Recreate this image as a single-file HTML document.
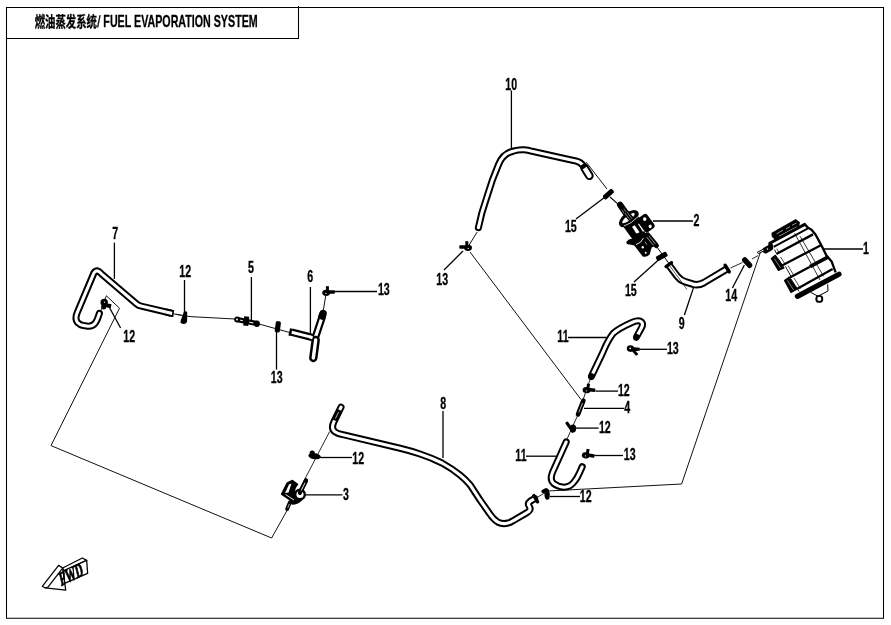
<!DOCTYPE html>
<html><head><meta charset="utf-8"><title>FUEL EVAPORATION SYSTEM</title>
<style>
html,body{margin:0;padding:0;background:#fff}
svg{display:block;will-change:transform;font-family:"Liberation Sans",sans-serif;font-weight:bold;font-size:16.0px;fill:#000}
text{stroke:#000;stroke-width:0.3px}
.ld{stroke:#000;fill:none}
</style></head><body>
<svg width="891" height="625" viewBox="0 0 891 625">
<rect width="891" height="625" fill="#fff"/>
<path d="M6.5 7.5H883.5V618.3H6.5Z" fill="none" stroke="#000" stroke-width="1.05"/>
<path d="M6.5 38.5H298.5V5.9" fill="none" stroke="#000" stroke-width="1.05"/>
<text transform="translate(34.7,26.7) scale(0.696,1)" style="font-family:'Liberation Sans','Noto Sans CJK SC',sans-serif;font-size:14.9px">燃油蒸发系统</text>
<text transform="translate(96.9,26.8) scale(0.6,1) skewX(-8)" style="font-size:16.1px">/</text>
<text transform="translate(103.35,26.8) scale(0.664,1)" style="font-size:16.1px">FUEL EVAPORATION SYSTEM</text>
<path d="M106.4 295.8L119.5 308.2L51 445.6L271.6 538L287.3 510" fill="none" stroke="#111" stroke-width="1.0"/>
<path d="M106.4 295.8L104.5 300" fill="none" stroke="#111" stroke-width="1.0"/>
<path d="M470 252L581 399.5" fill="none" stroke="#111" stroke-width="1.0"/>
<path d="M761 250.5L681.6 484L548 491" fill="none" stroke="#111" stroke-width="1.0"/>
<path d="M173 313.8L190 316.6L235 319L259 324L290 332.6" fill="none" stroke="#111" stroke-width="1.0"/>
<path d="M172.4 313.5L141 306.1Q138.4 305.5 136.4 303.8L101.2 273.6Q96.9 268.4 93.9 273L77.2 312.6Q74.6 318.6 77.5 322.5Q80 325 83 325.4L88 326.2Q93 326.4 95.4 322.8Q97 320.4 97.6 318.6L99.4 313.4" fill="none" stroke="#000" stroke-width="7.1" stroke-linecap="round" stroke-linejoin="round"/>
<path d="M172.4 313.5L141 306.1Q138.4 305.5 136.4 303.8L101.2 273.6Q96.9 268.4 93.9 273L77.2 312.6Q74.6 318.6 77.5 322.5Q80 325 83 325.4L88 326.2Q93 326.4 95.4 322.8Q97 320.4 97.6 318.6L99.4 313.4" fill="none" stroke="#fff" stroke-width="3.1" stroke-linecap="round" stroke-linejoin="round"/>
<path d="M170.6 313.1L175.9 314.35" stroke="#fff" stroke-width="7.1" stroke-linecap="butt" fill="none"/>
<path d="M166 312L172.9 313.62" fill="none" stroke="#000" stroke-width="7.1" stroke-linecap="butt" stroke-linejoin="round"/>
<path d="M166 312L172.9 313.62" fill="none" stroke="#fff" stroke-width="3.1" stroke-linecap="butt" stroke-linejoin="round"/>
<path d="M173.3 310.3L172.5 317" stroke="#000" stroke-width="1.6" stroke-linecap="butt" fill="none"/>
<path d="M173.6 313.8L181.5 315.3" fill="none" stroke="#111" stroke-width="1.0"/>
<path d="M184 311.2L186.6 311.6Q187.2 311.8 187.2 312.6L187.1 321.4Q186.4 323.6 184.2 324.1Q181.6 324 180.4 322.4Q180.6 320 182.2 316.4Z"/>
<g transform="translate(104.2,302.4)"><circle r="3.7"/><rect x="2" y="0.4" width="5.6" height="4" transform="rotate(12)"/><ellipse cx="-0.5" cy="4.6" rx="2.6" ry="2.4"/><circle cx="0.4" cy="-0.2" r="0.6" fill="#fff"/></g>
<path d="M103 306L100.6 311" fill="none" stroke="#111" stroke-width="0.9"/>
<path d="M237.6 319.6L257 323.6" stroke="#000" stroke-width="5.2" stroke-linecap="round" fill="none"/>
<path d="M239.6 320L242.4 320.6" stroke="#fff" stroke-width="1.0" stroke-linecap="round" fill="none"/>
<path d="M249.6 322.2L253 322.9" stroke="#fff" stroke-width="1.0" stroke-linecap="round" fill="none"/>
<path d="M246.7 316.4L245.7 325.8" stroke="#000" stroke-width="5" stroke-linecap="butt" fill="none"/>
<ellipse cx="256.9" cy="323.7" rx="2.9" ry="3.3"/>
<circle cx="237.2" cy="319.5" r="3"/><circle cx="237" cy="319.5" r="0.9" fill="#fff"/>
<rect x="-5.6" y="-2.6" width="11.2" height="5.2" rx="1.8" transform="translate(277.8,326.8) rotate(-82)"/>
<path d="M291.6 332.2L312 337.4" fill="none" stroke="#000" stroke-width="7.4" stroke-linecap="butt" stroke-linejoin="round"/>
<path d="M291.6 332.2L312 337.4" fill="none" stroke="#fff" stroke-width="3.0" stroke-linecap="butt" stroke-linejoin="round"/>
<path d="M291.2 328.4L289.6 335.8" stroke="#000" stroke-width="2.4" stroke-linecap="butt" fill="none"/>
<path d="M322.2 316.8L315 338.6" fill="none" stroke="#000" stroke-width="7.6" stroke-linecap="round" stroke-linejoin="round"/>
<path d="M322.2 316.8L315 338.6" fill="none" stroke="#fff" stroke-width="3.2" stroke-linecap="round" stroke-linejoin="round"/>
<path d="M315.7 340L313.3 358" fill="none" stroke="#000" stroke-width="8.4" stroke-linecap="round" stroke-linejoin="round"/>
<path d="M315.7 340L313.3 358" fill="none" stroke="#fff" stroke-width="3.4" stroke-linecap="round" stroke-linejoin="round"/>
<path d="M309.6 336.9L312.6 337.7" stroke="#fff" stroke-width="3.0" stroke-linecap="butt" fill="none"/>
<path d="M323 313.6L322.2 316" stroke="#000" stroke-width="7.6" stroke-linecap="round" fill="none"/>
<g transform="translate(326.2,292.8) rotate(0) scale(1.0,1.0)"><ellipse cx="0" cy="0" rx="4" ry="3.1"/><rect x="-0.3" y="-6.6" width="3" height="5"/><rect x="2.5" y="-2.6" width="6.2" height="3.6" rx="0.8"/><circle cx="-0.2" cy="0.6" r="0.6" fill="#fff"/></g>
<path d="M325.7 296L323.2 311" fill="none" stroke="#111" stroke-width="1.0"/>
<path d="M477.2 232L468.5 246" fill="none" stroke="#111" stroke-width="1.0"/>
<path d="M586.2 162.2L607 189" fill="none" stroke="#111" stroke-width="1.0"/>
<path d="M610 197L618.6 204.6" fill="none" stroke="#000" stroke-width="1.1"/>
<path d="M478.4 227.6Q481.6 212 486.4 198.6L492.4 180L498.6 164.4Q503 153.6 513 151.2Q518.6 149.4 524 149.8Q528 150.2 532 151.3L569 159.5L576 161Q581 162.2 583 165.6L584 167" fill="none" stroke="#000" stroke-width="7.1" stroke-linecap="round" stroke-linejoin="round"/>
<path d="M478.4 227.6Q481.6 212 486.4 198.6L492.4 180L498.6 164.4Q503 153.6 513 151.2Q518.6 149.4 524 149.8Q528 150.2 532 151.3L569 159.5L576 161Q581 162.2 583 165.6L584 167" fill="none" stroke="#fff" stroke-width="3.1" stroke-linecap="round" stroke-linejoin="round"/>
<path d="M584.6 168L589.4 175.8" fill="none" stroke="#000" stroke-width="8.6" stroke-linecap="round" stroke-linejoin="round"/>
<path d="M584.6 168L589.4 175.8" fill="none" stroke="#fff" stroke-width="4.6" stroke-linecap="round" stroke-linejoin="round"/>
<path d="M581.2 168.2L586.6 164.6" stroke="#000" stroke-width="3.6" stroke-linecap="butt" fill="none"/>
<g transform="translate(468,247.8) rotate(0) scale(-1.0,1.0)"><ellipse cx="0" cy="0" rx="4" ry="3.1"/><rect x="-0.3" y="-6.6" width="3" height="5"/><rect x="2.5" y="-2.6" width="6.2" height="3.6" rx="0.8"/><circle cx="-0.2" cy="0.6" r="0.6" fill="#fff"/></g>
<rect x="-6.1" y="-2.5" width="12.2" height="5" rx="1.6" transform="translate(608.4,194.2) rotate(-42)"/>
<rect x="-5.9" y="-2.6" width="11.8" height="5.2" rx="1.6" transform="translate(661.8,256.4) rotate(-29)"/>
<path d="M656.5 246.5L669 263.5" fill="none" stroke="#000" stroke-width="1.0"/>
<g transform="translate(610,198) scale(0.0992)">
<path d="M103 70L190 195" stroke="#000" stroke-width="64" stroke-linecap="round" fill="none"/>
<path d="M118 118L170 195M140 108L190 182" stroke="#fff" stroke-width="5" fill="none"/>
<path d="M120 270L230 420L330 470L355 355L290 190Z"/>
<g transform="translate(190,208) rotate(-38)"><ellipse rx="116" ry="62"/><ellipse rx="78" ry="24" cy="-6" fill="#fff"/></g>
<path d="M132 160L198 240L250 208L184 132Z"/>
<path d="M150 150L205 225M170 140L222 210" stroke="#fff" stroke-width="5" fill="none"/>
<path d="M140 282Q215 262 282 188" stroke="#fff" stroke-width="8" fill="none"/>
<path d="M222 290L268 362L298 345L250 275ZM282 262L332 340L348 330L300 255Z" fill="#fff"/>
<path d="M255 362Q290 372 305 350" stroke="#000" stroke-width="14" fill="none"/>
<rect x="300" y="160" width="120" height="170" rx="30" transform="rotate(-36 375 245)"/>
<ellipse cx="350" cy="212" rx="17" ry="19" fill="#fff"/><ellipse cx="405" cy="285" rx="15" ry="19" fill="#fff"/>
<path d="M190 418L165 440Q160 470 200 470L245 480L330 590Q370 600 400 570L420 500L470 480L480 455L390 345L330 380Z"/>
<path d="M372 372L468 480" stroke="#000" stroke-width="50" stroke-linecap="round" fill="none"/>
<path d="M368 392L440 478M392 382L458 462" stroke="#fff" stroke-width="6" fill="none"/>
<path d="M262 470Q315 455 338 402" stroke="#fff" stroke-width="9" fill="none"/>
<ellipse cx="330" cy="497" rx="11" ry="13" fill="#fff"/><ellipse cx="360" cy="552" rx="10" ry="9" fill="#fff"/>
<path d="M352 440L372 470" stroke="#fff" stroke-width="6"/>
</g>
<path d="M730.5 268L742.5 262.5" fill="none" stroke="#111" stroke-width="0.9"/>
<path d="M752 259L758 255.6" fill="none" stroke="#111" stroke-width="0.9"/>
<path d="M669.2 265.4L677.4 276.4Q680.6 280.4 685.4 281.8L693 284.2Q698.6 285.6 704 282.6L726.8 269" fill="none" stroke="#000" stroke-width="7.5" stroke-linecap="butt" stroke-linejoin="round"/>
<path d="M669.2 265.4L677.4 276.4Q680.6 280.4 685.4 281.8L693 284.2Q698.6 285.6 704 282.6L726.8 269" fill="none" stroke="#fff" stroke-width="3.5" stroke-linecap="butt" stroke-linejoin="round"/>
<path d="M666 266.6L671.6 262.6" stroke="#000" stroke-width="3.2" stroke-linecap="round" fill="none"/>
<path d="M725.2 265.4L729.2 271.8" stroke="#000" stroke-width="3.6" stroke-linecap="round" fill="none"/>
<path d="M669.6 265.6L687 289.5" fill="none" stroke="#111" stroke-width="0.7"/>
<rect x="-6.3" y="-2.7" width="12.6" height="5.4" rx="2.6" transform="translate(747.2,262.6) rotate(47)"/>
<g stroke="#000" fill="none">
<path d="M772 233.2L795.6 219.7L799.3 222.4L798.7 225.8L775 238.8L772.4 236.5Z" fill="#000" stroke-width="1.2" stroke-linejoin="round"/>
<path d="M776.6 233.8L783 230.2M786 228.8L790 226.6M792 225.4L796.4 223" stroke="#fff" stroke-width="0.6"/>
<path d="M779 236.4L796.6 227" stroke="#fff" stroke-width="0.8"/>
<path d="M769.8 243.2L804.7 224.4" stroke-width="3" stroke-linecap="round"/>
<path d="M772.5 244.6L805.5 227" stroke="#fff" stroke-width="0.8"/>
<path d="M773.7 246.8L808 228.4" stroke-width="1.9"/>
<path d="M804.7 224.4L808 227.6L811.5 229.8L815.5 234.5L821 244.6L826.3 255.3L831.6 261.4L835.6 272.4" stroke-width="2.3" stroke-linejoin="round"/>
<path d="M776.8 253.8L813 234.4" stroke-width="2.4"/>
<path d="M782 265.4L821.4 245" stroke-width="2.3"/>
<path d="M788.5 278.2L810 266.7" stroke-width="2.3"/>
<path d="M810 266.7L827.4 257.4" stroke-width="3.6"/>
<path d="M797.3 288.7L832.6 269" stroke-width="2.2"/>
<path d="M797.4 296.4L839 274.2" stroke-width="5.2" stroke-linecap="round"/>
<path d="M774.6 249.6L777 254.6M777.9 258.4L782.3 265M785.4 266.3L791 276.4M791 279L799 291.4" stroke-width="0.9"/>
<path d="M776.8 248.6L779 252.6M780.5 257L785 264M788 265.5L793.5 275M794 278L800.6 288.6" stroke-width="0.7"/>
<path d="M794.6 233.2L820 280M800 236.2L823.7 276.4" stroke-width="0.8"/>
<path d="M771.3 258.4L775.3 255.3L784 268L778.4 270.4Z" fill="#000" stroke-width="1.2" stroke-linejoin="round"/>
<path d="M784.5 280.4L789 277.3L796.8 289.2L791 292.5Z" fill="#000" stroke-width="1.2" stroke-linejoin="round"/>
<path d="M774.4 258.6L780.6 268M787.4 280.4L793.6 290" stroke="#fff" stroke-width="0.5"/>
<path d="M810.5 292.3L818 296.2L828 291L827.7 284.3" stroke-width="1"/>
<circle cx="819.3" cy="298.9" r="3" fill="#fff" stroke-width="1.9"/>
<path d="M765.6 250.2L770 247.8" stroke-width="6.4" stroke-linecap="round"/>
<path d="M769 246L772.5 244" stroke-width="3.5"/>
<path d="M757.5 253.2L764 249.8" stroke-width="2.6"/>
<path d="M757.3 253.3L763.6 250" stroke="#fff" stroke-width="0.9"/>
<circle cx="767.4" cy="249" r="0.8" fill="#fff" stroke="none"/>
</g>
<path d="M590.6 378L577.6 415.5L566.4 440.5" fill="none" stroke="#111" stroke-width="0.9"/>
<path d="M591.6 376L603 352Q607.6 340.6 613 333.6Q618 328.6 633 322Q639 319.4 641.6 322Q643.4 324 641.6 327.6L636.8 336.4" fill="none" stroke="#000" stroke-width="7.1" stroke-linecap="round" stroke-linejoin="round"/>
<path d="M591.6 376L603 352Q607.6 340.6 613 333.6Q618 328.6 633 322Q639 319.4 641.6 322Q643.4 324 641.6 327.6L636.8 336.4" fill="none" stroke="#fff" stroke-width="3.1" stroke-linecap="round" stroke-linejoin="round"/>
<path d="M591.6 376.2L591.2 377" stroke="#000" stroke-width="6" stroke-linecap="round" fill="none"/>
<path d="M636.6 337L636.2 337.8" stroke="#000" stroke-width="6" stroke-linecap="round" fill="none"/>
<g transform="translate(630.4,348.6)"><ellipse rx="3.6" ry="3.3"/><circle cx="-0.2" cy="-0.3" r="0.9" fill="#fff"/><path d="M1 -1.6L9.4 -0.9L9.4 2.2L1 2.6Z"/><path d="M0.5 1.5L5.6 7.2L8 5.6L3.4 0Z"/></g>
<g transform="translate(586.6,390.2) rotate(6) scale(1.0,1.0)"><ellipse cx="0" cy="0" rx="4" ry="3.1"/><rect x="-0.3" y="-6.6" width="3" height="5"/><rect x="2.5" y="-2.6" width="6.2" height="3.6" rx="0.8"/><circle cx="-0.2" cy="0.6" r="0.6" fill="#fff"/></g>
<path d="M583.4 400.6L578 414.4" stroke="#000" stroke-width="4.6" stroke-linecap="round" fill="none"/>
<path d="M582.6 403L578.8 412.4" stroke="#fff" stroke-width="0.7" stroke-linecap="butt" fill="none"/>
<path d="M567 423.2L572.6 431.2" stroke="#000" stroke-width="3.2" stroke-linecap="round" fill="none"/>
<ellipse cx="573" cy="428.4" rx="3.2" ry="3.9"/>
<path d="M566.2 442L552.4 472.6Q549.6 479.6 553.6 483.4Q557.6 486.6 564 487.2Q569.6 487.4 573.6 482.6Q577.4 478 579.6 472.6L582.2 466.8" fill="none" stroke="#000" stroke-width="7.1" stroke-linecap="round" stroke-linejoin="round"/>
<path d="M566.2 442L552.4 472.6Q549.6 479.6 553.6 483.4Q557.6 486.6 564 487.2Q569.6 487.4 573.6 482.6Q577.4 478 579.6 472.6L582.2 466.8" fill="none" stroke="#fff" stroke-width="3.1" stroke-linecap="round" stroke-linejoin="round"/>
<g transform="translate(585.8,455.4) rotate(10) scale(1.0,1.0)"><ellipse cx="0" cy="0" rx="4" ry="3.1"/><rect x="-0.3" y="-6.6" width="3" height="5"/><rect x="2.5" y="-2.6" width="6.2" height="3.6" rx="0.8"/><circle cx="-0.2" cy="0.6" r="0.6" fill="#fff"/></g>
<path d="M544.8 488.4Q547 487.4 548.6 489.6L549.8 493.6L549.6 498Q548.6 500.2 546.4 499.8Q544.6 498.8 544.6 496L544.4 493.2L541.8 492.8Q540.8 491.2 542 490Z"/>
<path d="M329.6 431.6L304.1 480.5" fill="none" stroke="#111" stroke-width="0.9"/>
<path d="M536 498L548 491" fill="none" stroke="#111" stroke-width="0.9"/>
<path d="M341 407.2L334 421.6Q330.6 428.6 335 431.8Q337.6 433.6 342 434.4L400 448.2Q411 450.8 420 454Q432 458 442 463Q452 468.6 460 475Q466 480 470 484.7L480 500L489.6 513.6Q493.6 519.6 498 522.2Q503 524.6 508 523Q510.6 522.4 513 520.8L527 512.6Q531.6 510 529.4 506.6Q527.2 503.4 530 501.4L534.6 498.6" fill="none" stroke="#000" stroke-width="7.1" stroke-linecap="round" stroke-linejoin="round"/>
<path d="M341 407.2L334 421.6Q330.6 428.6 335 431.8Q337.6 433.6 342 434.4L400 448.2Q411 450.8 420 454Q432 458 442 463Q452 468.6 460 475Q466 480 470 484.7L480 500L489.6 513.6Q493.6 519.6 498 522.2Q503 524.6 508 523Q510.6 522.4 513 520.8L527 512.6Q531.6 510 529.4 506.6Q527.2 503.4 530 501.4L534.6 498.6" fill="none" stroke="#fff" stroke-width="3.1" stroke-linecap="round" stroke-linejoin="round"/>
<path d="M339.6 410L334.6 420.4" stroke="#000" stroke-width="4.4" stroke-linecap="butt" fill="none"/>
<path d="M338.6 412L335.4 418.6" stroke="#fff" stroke-width="0.7" stroke-linecap="butt" fill="none"/>
<path d="M533.8 495.6L537.6 501.8" stroke="#000" stroke-width="3.4" stroke-linecap="round" fill="none"/>
<ellipse cx="314.6" cy="456.2" rx="6.3" ry="3" transform="rotate(8 314.6 456.2)"/><ellipse cx="312.2" cy="453" rx="2.6" ry="2.6"/>
<g transform="translate(255,460) scale(0.1)">
<path d="M510 205L448 330" stroke="#000" stroke-width="42" stroke-linecap="round" fill="none"/>
<path d="M500 225L455 315" stroke="#fff" stroke-width="9" fill="none"/>
<path d="M265 342L320 232L375 205L425 243Q385 290 395 340Q410 395 470 395Q430 440 370 440L350 400Z" stroke="#000" stroke-width="14" stroke-linejoin="round"/>
<path d="M300 330L340 245L365 235L335 325Z" fill="#fff"/>
<path d="M305 345L390 400" stroke="#fff" stroke-width="9"/>
<circle cx="450" cy="345" r="48" fill="#fff" stroke="#000" stroke-width="24"/>
<path d="M510 205L448 330" stroke="#000" stroke-width="40" stroke-linecap="round" fill="none"/>
<path d="M500 228L462 305" stroke="#fff" stroke-width="9" fill="none"/>
<path d="M348 425L322 490" stroke="#000" stroke-width="38" stroke-linecap="round" fill="none"/>
<path d="M343 440L328 478" stroke="#fff" stroke-width="7" fill="none"/>
</g>
<g transform="translate(30,545) scale(0.09606)" fill="#fff" stroke="#000" stroke-width="13" stroke-linejoin="round">
<path d="M340 240L545 135L590 160L350 268Z"/>
<path d="M350 268L590 160L600 295L360 400Z"/>
<path d="M128 430L298 212L340 240L372 470L160 447Z"/>
<path d="M340 240L185 442" fill="none"/>
<path d="M160 447L185 442" fill="none"/>
</g>
<text transform="translate(61.3,585.9) rotate(-26) skewX(-12) scale(0.58,1)" style="font-family:'Liberation Serif',serif;font-size:18.6px;font-weight:bold;stroke:#000;stroke-width:0.9px">FWD</text>
<path d="M114.4 242.6L114.4 279" class="ld" stroke-width="1.3"/>
<text transform="translate(112.17,239.00) scale(0.665,1)">7</text>
<path d="M184.5 280L184.5 313" class="ld" stroke-width="1.3"/>
<text transform="translate(179.36,276.60) scale(0.665,1)">12</text>
<path d="M108.6 306L120.6 328" class="ld" stroke-width="1.3"/>
<text transform="translate(123.36,341.60) scale(0.665,1)">12</text>
<path d="M251.4 277L251.4 320" class="ld" stroke-width="1.3"/>
<text transform="translate(247.88,273.20) scale(0.665,1)">5</text>
<path d="M310.4 287L310.4 335" class="ld" stroke-width="1.3"/>
<text transform="translate(307.37,281.60) scale(0.665,1)">6</text>
<path d="M276.5 332L276.5 369.6" class="ld" stroke-width="1.3"/>
<text transform="translate(270.76,383.30) scale(0.665,1)">13</text>
<path d="M334 291.5L377 291.5" class="ld" stroke-width="1.3"/>
<text transform="translate(377.96,295.00) scale(0.665,1)">13</text>
<path d="M511.4 90.4L511.4 148" class="ld" stroke-width="1.3"/>
<text transform="translate(505.36,89.60) scale(0.665,1)">10</text>
<path d="M463 251L444 270" class="ld" stroke-width="1.3"/>
<text transform="translate(436.36,285.40) scale(0.665,1)">13</text>
<path d="M604.4 197.4L576 219" class="ld" stroke-width="1.3"/>
<text transform="translate(564.96,232.40) scale(0.665,1)">15</text>
<path d="M658.4 260L634 282" class="ld" stroke-width="1.3"/>
<text transform="translate(624.96,296.00) scale(0.665,1)">15</text>
<path d="M653 221L693 221" class="ld" stroke-width="1.3"/>
<text transform="translate(693.48,225.60) scale(0.665,1)">2</text>
<path d="M823 249L863 249" class="ld" stroke-width="1.3"/>
<text transform="translate(862.96,254.00) scale(0.665,1)">1</text>
<path d="M744.4 265L732.4 288" class="ld" stroke-width="1.3"/>
<text transform="translate(725.36,300.60) scale(0.665,1)">14</text>
<path d="M693.6 287.4L684.4 315" class="ld" stroke-width="1.3"/>
<text transform="translate(678.77,329.00) scale(0.665,1)">9</text>
<path d="M640 349.3L667 349.3" class="ld" stroke-width="1.3"/>
<text transform="translate(666.96,354.20) scale(0.665,1)">13</text>
<path d="M568 337.5L606.5 337.5" class="ld" stroke-width="1.3"/>
<text transform="translate(557.36,341.80) scale(0.665,1)">11</text>
<path d="M595.4 391.1L618 391.1" class="ld" stroke-width="1.3"/>
<text transform="translate(617.96,395.80) scale(0.665,1)">12</text>
<path d="M584 408.4L624 408.4" class="ld" stroke-width="1.3"/>
<text transform="translate(624.29,413.00) scale(0.665,1)">4</text>
<path d="M576 428.1L598.6 428.1" class="ld" stroke-width="1.3"/>
<text transform="translate(598.96,432.80) scale(0.665,1)">12</text>
<path d="M526 456.2L556.5 456.2" class="ld" stroke-width="1.3"/>
<text transform="translate(515.36,460.80) scale(0.665,1)">11</text>
<path d="M594.4 455.5L623 455.5" class="ld" stroke-width="1.3"/>
<text transform="translate(623.76,460.20) scale(0.665,1)">13</text>
<path d="M550 496.5L580 496.5" class="ld" stroke-width="1.3"/>
<text transform="translate(579.76,502.20) scale(0.665,1)">12</text>
<path d="M443 411L443 458" class="ld" stroke-width="1.3"/>
<text transform="translate(440.28,409.40) scale(0.665,1)">8</text>
<path d="M320 457.5L352 457.5" class="ld" stroke-width="1.3"/>
<text transform="translate(352.36,463.60) scale(0.665,1)">12</text>
<path d="M305 494.8L342.5 494.8" class="ld" stroke-width="1.3"/>
<text transform="translate(342.99,499.80) scale(0.665,1)">3</text>
</svg>
</body></html>
